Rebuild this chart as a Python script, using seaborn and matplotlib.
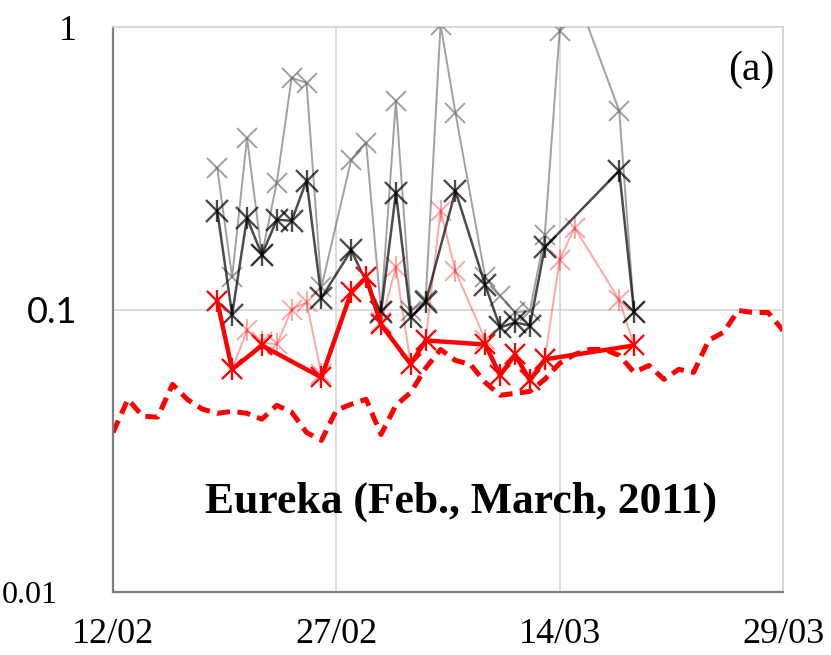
import numpy as np
import pandas as pd
import matplotlib
matplotlib.use("Agg")
import matplotlib.pyplot as plt
from matplotlib.ticker import LogLocator, NullFormatter
from matplotlib.transforms import ScaledTranslation
import seaborn as sns

start = pd.Timestamp("2011-02-12")

# Gray series (thin, x markers)
gray_days = [7, 8, 9, 10, 11, 12, 13, 14, 16, 17, 18, 19, 20, 21, 22, 23, 25, 26, 27, 28, 29, 30, 31, 34, 35]
gray_vals = [0.318, 0.130, 0.405, 0.156, 0.281, 0.661, 0.634, 0.120, 0.339, 0.389, 0.099, 0.548, 0.099,
             0.108, 1.02, 0.497, 0.130, 0.112, 0.0976, 0.099, 0.183, 0.97, 1.35, 0.505, 0.0976]

# Black series (asterisk markers)
black_days = [7, 8, 9, 10, 11, 12, 13, 14, 16, 18, 19, 20, 21, 23, 25, 26, 27, 28, 29, 34, 35]
black_vals = [0.224, 0.096, 0.211, 0.156, 0.208, 0.206, 0.286, 0.110, 0.162, 0.0976, 0.259, 0.0937,
              0.106, 0.263, 0.122, 0.0864, 0.090, 0.0877, 0.166, 0.310, 0.0976]

# Light red series (thin, asterisk markers)
pink_days = [7, 8, 9, 10, 11, 12, 13, 14, 16, 17, 18, 19, 20, 21, 22, 23, 25, 26, 27, 28, 29, 30, 31, 34, 35]
pink_vals = [0.107, 0.0614, 0.0843, 0.0765, 0.0752, 0.100, 0.106, 0.0589, 0.115, 0.130, 0.090, 0.141,
             0.064, 0.0777, 0.224, 0.137, 0.078, 0.0585, 0.0693, 0.0561, 0.0666, 0.150, 0.195, 0.108, 0.0746]

# Red thick series (asterisk markers)
red_days = [7, 8, 10, 14, 16, 17, 18, 20, 21, 25, 26, 27, 28, 29, 35]
red_vals = [0.107, 0.0614, 0.0746, 0.0575, 0.115, 0.130, 0.0885, 0.064, 0.0777, 0.0752, 0.0585,
            0.0693, 0.0561, 0.0666, 0.0746]

# Red dashed daily series
dash_days = list(range(0, 46))
dash_vals = [0.0367, 0.0481, 0.0419, 0.0416, 0.0543, 0.048, 0.0444, 0.0429, 0.0436, 0.0429, 0.0409,
             0.0458, 0.0433, 0.0367, 0.0344, 0.044, 0.0462, 0.0481, 0.0361, 0.0458, 0.0509, 0.062,
             0.0722, 0.066, 0.064, 0.0552, 0.0497, 0.0505, 0.0513, 0.0566, 0.0645, 0.0693, 0.0722,
             0.0722, 0.0688, 0.0599, 0.0634, 0.0566, 0.0614, 0.0599, 0.0777, 0.083, 0.0992, 0.0976,
             0.0976, 0.0843]

xtick_labels = ["12/02", "27/02", "14/03", "29/03"]
ytick_vals = [0.01, 0.1, 1]
ytick_labels = ["0.01", "0.1", "1"]
title_text = "Eureka (Feb., March, 2011)"
panel_text = "(a)"


def to_dates(days):
    return start + pd.to_timedelta(days, unit="D")


sns.set_style("white")
plt.rcParams["font.family"] = ["Liberation Serif", "DejaVu Serif"]

fig = plt.figure(figsize=(8.31, 6.55), dpi=100)
ax = fig.add_axes([113 / 831, 1 - 592 / 655, (783 - 113) / 831, (592 - 27) / 655])

df_dash = pd.DataFrame({"date": to_dates(dash_days), "v": dash_vals})
sns.lineplot(data=df_dash, x="date", y="v", ax=ax, color="#ff0000", lw=3.6, zorder=2)
ax.lines[-1].set_dashes((2.6, 1.5))

MS = 15
df_gray = pd.DataFrame({"date": to_dates(gray_days), "v": gray_vals})
sns.lineplot(data=df_gray, x="date", y="v", ax=ax, color="#555555", alpha=0.55, lw=1.4,
             marker="x", markersize=MS, markeredgewidth=1.4, markeredgecolor="#555555", zorder=3)

df_pink = pd.DataFrame({"date": to_dates(pink_days), "v": pink_vals})
sns.lineplot(data=df_pink, x="date", y="v", ax=ax, color="#ff0000", alpha=0.35, lw=1.4,
             marker="x", markersize=MS, markeredgewidth=1.4, markeredgecolor="#ff0000", zorder=3)
sns.scatterplot(data=df_pink, x="date", y="v", ax=ax, color="#ff0000", alpha=0.35,
                marker="|", s=230, linewidth=1.4, zorder=3)

df_black = pd.DataFrame({"date": to_dates(black_days), "v": black_vals})
sns.lineplot(data=df_black, x="date", y="v", ax=ax, color="#000000", alpha=0.7, lw=1.8,
             marker="x", markersize=MS + 1, markeredgewidth=1.7, markeredgecolor="#000000", zorder=4)
sns.scatterplot(data=df_black, x="date", y="v", ax=ax, color="#000000", alpha=0.7,
                marker="|", s=250, linewidth=1.7, zorder=4)

df_red = pd.DataFrame({"date": to_dates(red_days), "v": red_vals})
sns.lineplot(data=df_red, x="date", y="v", ax=ax, color="#ff0000", lw=3.2,
             marker="x", markersize=MS, markeredgewidth=1.6, markeredgecolor="#ff0000", zorder=5)
sns.scatterplot(data=df_red, x="date", y="v", ax=ax, color="#ff0000",
                marker="|", s=230, linewidth=1.6, zorder=5)

ax.set_yscale("log")
ax.set_ylim(0.01, 1)
x0 = start
x1 = start + pd.Timedelta(days=45)
ax.set_xlim(x0, x1)

major_x = pd.date_range(x0, x1, freq="15D")
minor_x = pd.date_range(x0, x1, freq="3D")
ax.set_xticks(major_x)
ax.set_xticklabels(xtick_labels)
ax.set_xticks(minor_x, minor=True)

ax.set_yticks(ytick_vals)
ax.set_yticklabels(ytick_labels)
ax.yaxis.set_minor_locator(LogLocator(base=10, subs=np.arange(2, 10)))
ax.yaxis.set_minor_formatter(NullFormatter())

ax.set_xlabel("")
ax.set_ylabel("")

ax.grid(True, which="major", color="#d4d4d4", lw=1.2)
ax.set_axisbelow(True)

for s in ["top", "right"]:
    ax.spines[s].set_color("#d4d4d4")
    ax.spines[s].set_linewidth(1.2)
for s in ["left", "bottom"]:
    ax.spines[s].set_color("#7f7f7f")
    ax.spines[s].set_linewidth(1.6)

ax.tick_params(axis="both", which="both", direction="in", color="#7f7f7f", width=1.3)
ax.tick_params(axis="both", which="major", length=9)
ax.tick_params(axis="both", which="minor", length=9)
ax.tick_params(axis="x", which="major", labelsize=26, pad=19, labelcolor="black")
ax.tick_params(axis="y", which="major", labelsize=26, pad=26, labelcolor="black")

# individual y-label styling as in the reference
for lab in ax.get_yticklabels():
    txt = lab.get_text()
    if txt == "0.01":
        lab.set_fontsize(23)
        lab.set_transform(lab.get_transform() + ScaledTranslation(-19 / 100, 0, fig.dpi_scale_trans))
    elif txt == "0.1":
        lab.set_family(["Lato", "DejaVu Sans"])
        lab.set_fontsize(26)
    else:
        lab.set_fontsize(26)

ax.text(0.52, 0.16, title_text, transform=ax.transAxes, ha="center", va="center",
        fontsize=31.4, fontweight="bold", color="black")
ax.text(0.988, 0.925, panel_text, transform=ax.transAxes, ha="right", va="center",
        fontsize=30, color="black")

fig.savefig("out.png", dpi=100)
